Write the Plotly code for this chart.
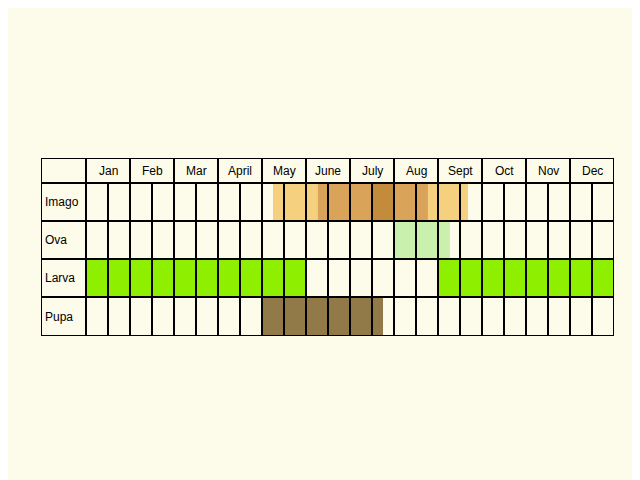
import plotly.graph_objects as go

months = ["Jan", "Feb", "Mar", "April", "May", "June", "July", "Aug", "Sept", "Oct", "Nov", "Dec"]
stages = ["Imago", "Ova", "Larva", "Pupa"]

# periods in month units (0 = start of Jan, 12 = end of Dec)
bar_stage = ["Imago", "Imago", "Imago", "Ova", "Larva", "Larva", "Pupa"]
bar_start = [4.25, 5.27, 6.48, 7.02, 0.0, 8.0, 4.02]
bar_end = [8.68, 7.77, 6.98, 8.27, 5.0, 12.0, 6.75]
bar_color = ["#f4d07f", "#d9a35a", "#c38c3c", "#c9f0ad", "#8ef000", "#8ef000", "#927a48"]

# row boundaries in pixel-like units (bottom = 0)
row_edges = {"Pupa": (0, 39), "Larva": (39, 77), "Ova": (77, 115), "Imago": (115, 153)}
head = (153, 178)
x_left = -45 / 44

fig = go.Figure()
for s, a, b, c in zip(bar_stage, bar_start, bar_end, bar_color):
    lo, hi = row_edges[s]
    fig.add_trace(go.Bar(y=[(lo + hi) / 2], x=[b - a], base=[a], orientation="h",
                         width=hi - lo, marker=dict(color=c, line=dict(width=0)),
                         showlegend=False, hoverinfo="skip"))

shapes = []
ln = dict(color="black", width=2)
for yv in [0, 39, 77, 115, 153, 178]:
    shapes.append(dict(type="line", x0=x_left, x1=12, y0=yv, y1=yv, line=ln))
for xv in [x_left, 0] + list(range(1, 13)):
    shapes.append(dict(type="line", x0=xv, x1=xv, y0=0, y1=178, line=ln))
for i in range(12):
    shapes.append(dict(type="line", x0=i + 0.5, x1=i + 0.5, y0=0, y1=153, line=ln))

ann = []
for i, m in enumerate(months):
    ann.append(dict(x=i + 0.5, y=sum(head) / 2, text=m, showarrow=False,
                    font=dict(family="Liberation Sans, Arial", size=12, color="black")))
for s in stages:
    lo, hi = row_edges[s]
    ann.append(dict(x=x_left + 0.05, y=(lo + hi) / 2, text=s, showarrow=False, xanchor="left",
                    font=dict(family="Liberation Sans, Arial", size=12, color="black")))

fig.update_layout(
    width=640, height=480, barmode="overlay",
    paper_bgcolor="#fdfbe9", plot_bgcolor="#fdfbe9",
    margin=dict(l=33, r=34, t=150, b=152),
    xaxis=dict(range=[x_left, 12], visible=False, fixedrange=True),
    yaxis=dict(range=[0, 178], visible=False, fixedrange=True),
    shapes=shapes, annotations=ann,
)
fig.write_html("out.html")
